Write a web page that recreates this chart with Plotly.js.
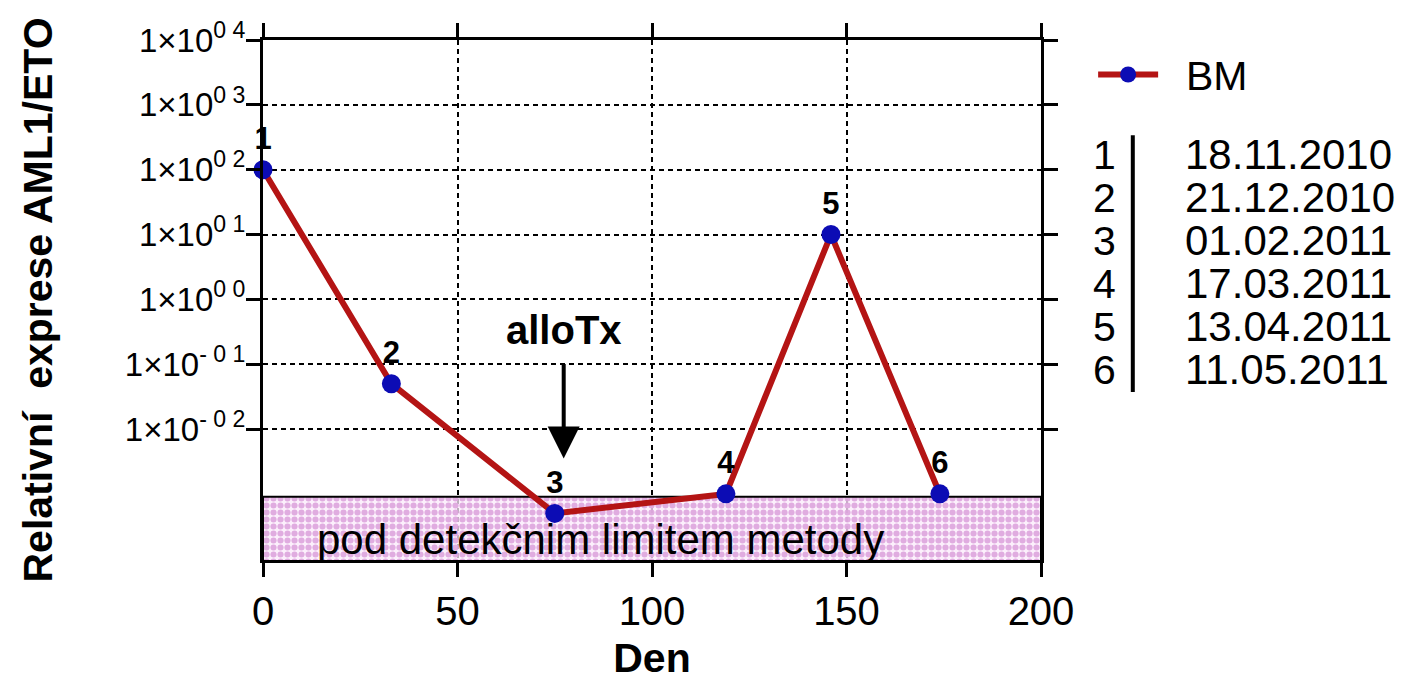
<!DOCTYPE html>
<html>
<head>
<meta charset="utf-8">
<script src="https://cdn.plot.ly/plotly-3.0.1.min.js"></script>
<style>html,body{margin:0;padding:0;background:#fff;}#chart{width:1404px;height:681px;}</style>
</head>
<body>
<div id="chart"></div>
<script>
// ---- data ----
const days = [0, 33, 75, 119, 146, 174];
const expression = [100, 0.05, 0.0005, 0.001, 10, 0.001];
const pointLabels = ['1', '2', '3', '4', '5', '6'];
const sampleNumbers = ['1', '2', '3', '4', '5', '6'];
const sampleDates = ['18.11.2010', '21.12.2010', '01.02.2011', '17.03.2011', '13.04.2011', '11.05.2011'];
const yTickVals = [0.01, 0.1, 1, 10, 100, 1000, 10000];
const yTickText = ['1×10<sup>- 0 2</sup>', '1×10<sup>- 0 1</sup>', '1×10<sup>0 0</sup>', '1×10<sup>0 1</sup>', '1×10<sup>0 2</sup>', '1×10<sup>0 3</sup>', '1×10<sup>0 4</sup>'];
const xTickVals = [0, 50, 100, 150, 200];
const detectionLimit = 0.0009;
const boxBottom = 0.00001;
const xMin = 0, xMax = 200;
const alloTxDay = 77.3;

const FONT = 'Arial, "Liberation Sans", sans-serif';

const limitBox = {
  x: [xMin, xMax, xMax, xMin, xMin],
  y: [detectionLimit, detectionLimit, boxBottom, boxBottom, detectionLimit],
  mode: 'lines',
  fill: 'toself',
  fillcolor: 'rgba(0,0,0,0)',
  fillpattern: {shape: '.', bgcolor: 'rgba(251,234,251,0.75)', fgcolor: 'rgba(222,165,222,0.9)', size: 7, solidity: 0.6},
  line: {color: 'black', width: 2},
  showlegend: false,
  hoverinfo: 'skip'
};

const bm = {
  x: days,
  y: expression,
  name: '\u00a0\u00a0BM',
  mode: 'lines+markers+text',
  text: pointLabels,
  textposition: 'top center',
  textfont: {family: FONT, size: 31, color: 'black', weight: 'bold'},
  line: {color: '#b41414', width: 6},
  marker: {color: '#0c0cb4', size: 19},
  cliponaxis: false
};

const annotations = [
  {x: alloTxDay, y: Math.log10(0.0035), xref: 'x', yref: 'y', text: '', showarrow: true,
   ax: 0, ay: -96, arrowhead: 2, arrowsize: 1.6, arrowwidth: 4, arrowcolor: 'black', standoff: 0},
  {x: alloTxDay, y: Math.log10(0.335), xref: 'x', yref: 'y', text: '<b>alloTx</b>', showarrow: false,
   font: {family: FONT, size: 40, color: 'black'}},
  {x: 86.8, y: Math.log10(0.000195), xref: 'x', yref: 'y', text: 'pod detekčnim limitem metody', showarrow: false,
   font: {family: FONT, size: 42, color: 'black'}}
];

sampleNumbers.forEach((n, i) => {
  const yp = 0.779 - i * 0.0827;
  annotations.push({x: 1.099, y: yp, xref: 'paper', yref: 'paper', text: n, showarrow: false,
    xanchor: 'right', yanchor: 'middle', font: {family: FONT, size: 41, color: 'black'}});
  annotations.push({x: 1.183, y: yp, xref: 'paper', yref: 'paper', text: sampleDates[i], showarrow: false,
    xanchor: 'left', yanchor: 'middle', font: {family: FONT, size: 42, color: 'black'}});
});

const axisCommon = {
  showline: true, linecolor: 'black', linewidth: 3, mirror: 'ticks',
  ticks: 'outside', ticklen: 14, tickwidth: 3, tickcolor: 'black',
  showgrid: true, gridcolor: 'black', gridwidth: 2, griddash: '5px,4px',
  zeroline: false
};

const layout = {
  width: 1404, height: 681,
  margin: {l: 263, r: 363, t: 40, b: 121},
  paper_bgcolor: 'white', plot_bgcolor: 'white',
  font: {family: FONT, color: 'black'},
  showlegend: true,
  legend: {x: 1.067, y: 0.933, xanchor: 'left', yanchor: 'middle', font: {family: FONT, size: 41, color: 'black'},
           itemwidth: 60, bgcolor: 'rgba(0,0,0,0)'},
  xaxis: Object.assign({}, axisCommon, {
    range: [xMin, xMax], tickvals: xTickVals, ticktext: xTickVals.map(String),
    tickfont: {family: FONT, size: 40, color: 'black'},
    title: {text: 'Den', font: {family: FONT, size: 41, color: 'black', weight: 'bold'}, standoff: 22}
  }),
  yaxis: Object.assign({}, axisCommon, {
    type: 'log', range: [-4.02, 4], tickvals: yTickVals, ticktext: yTickText,
    tickfont: {family: FONT, size: 33, color: 'black'},
    ticklabelstandoff: -6,
    title: {text: 'Relativní  exprese AML1/ETO', font: {family: FONT, size: 41, color: 'black', weight: 'bold'}, standoff: 60}
  }),
  annotations: annotations,
  shapes: [
    {type: 'line', xref: 'paper', yref: 'paper', x0: 1.118, x1: 1.118, y0: 0.323, y1: 0.817,
     line: {color: 'black', width: 4}}
  ],
  hovermode: false
};

Plotly.newPlot('chart', [limitBox, bm], layout, {staticPlot: true, displayModeBar: false});
</script>
</body>
</html>
